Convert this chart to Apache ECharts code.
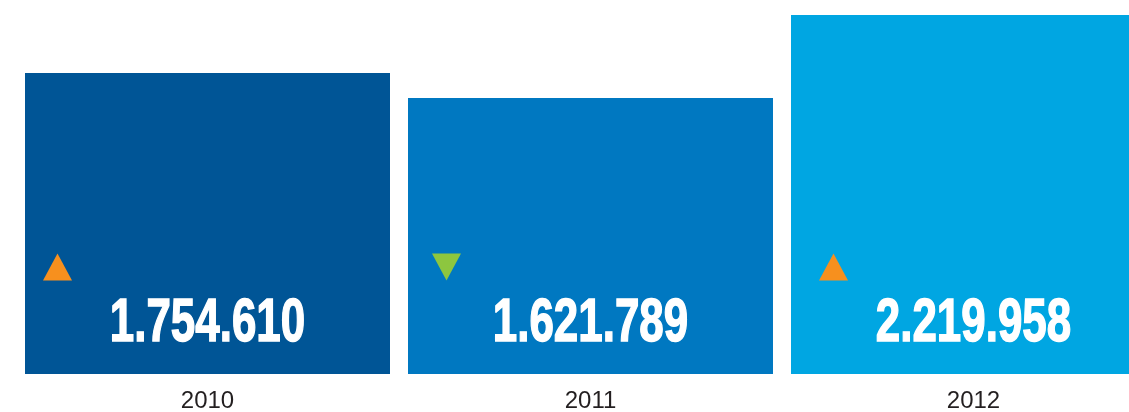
<!DOCTYPE html>
<html>
<head>
<meta charset="utf-8">
<script src="https://cdn.jsdelivr.net/npm/echarts@6/dist/echarts.min.js"></script>
<style>
    html, body { margin: 0; padding: 0; background: #fff; }
    #main { width: 1129px; height: 412px; }
</style>
</head>
<body>
<div id="main"></div>
<script type="text/javascript">
    // data
    var years = ['2010', '2011', '2012'];
    var totals = [1754610, 1621789, 2219958];
    // bar heights as drawn (the picture is not to scale)
    var barHeights = [301, 276, 359];
    var trend = ['up', 'down', 'up'];

    var barColors = ['#005596', '#0078c1', '#00a6e2'];
    var trendColors = { up: '#f7901e', down: '#8dc63f' };

    function fmt(n) {
        return String(n).replace(/\B(?=(\d{3})+(?!\d))/g, '.');
    }

    var myChart = echarts.init(document.getElementById('main'));

    var option = {
        animation: false,
        grid: {
            left: 16,
            width: 1149, // last bar runs off the right edge
            top: 15,
            bottom: 38,
            outerBoundsMode: 'none'
        },
        xAxis: {
            type: 'category',
            data: years,
            axisLine: { show: false },
            axisTick: { show: false },
            axisLabel: {
                margin: 15,
                color: '#231f20',
                fontSize: 24,
                fontFamily: 'Liberation Sans'
            }
        },
        yAxis: {
            type: 'value',
            min: 0,
            max: 359,
            show: false,
            splitLine: { show: false }
        },
        series: [
            {
                type: 'bar',
                barWidth: 365,
                data: barHeights.map(function (h, i) {
                    return { value: h, itemStyle: { color: barColors[i] } };
                })
            },
            {
                // trend arrows
                type: 'scatter',
                symbol: 'triangle',
                symbolSize: [29, 27],
                itemStyle: { opacity: 1 },
                data: trend.map(function (t, i) {
                    return {
                        value: [i, 107],
                        symbolRotate: t === 'down' ? 180 : 0,
                        symbolOffset: [[-150, -144, -140][i], 0],
                        itemStyle: { color: trendColors[t], opacity: 1 }
                    };
                })
            },
            {
                // big value labels, squeezed to a condensed look
                type: 'custom',
                z: 10,
                encode: { x: 0, y: 1 },
                data: totals.map(function (v, i) { return [i, 50]; }),
                renderItem: function (params, api) {
                    var p = api.coord([api.value(0), api.value(1)]);
                    return {
                        type: 'text',
                        x: p[0],
                        y: p[1],
                        scaleX: 0.72,
                        style: {
                            text: fmt(totals[params.dataIndex]),
                            fill: '#ffffff',
                            stroke: '#ffffff',
                            lineWidth: 1.5,
                            font: 'bold 61px "Liberation Sans"',
                            align: 'center',
                            verticalAlign: 'middle'
                        }
                    };
                }
            }
        ]
    };
    myChart.setOption(option);
</script>
</body>
</html>
